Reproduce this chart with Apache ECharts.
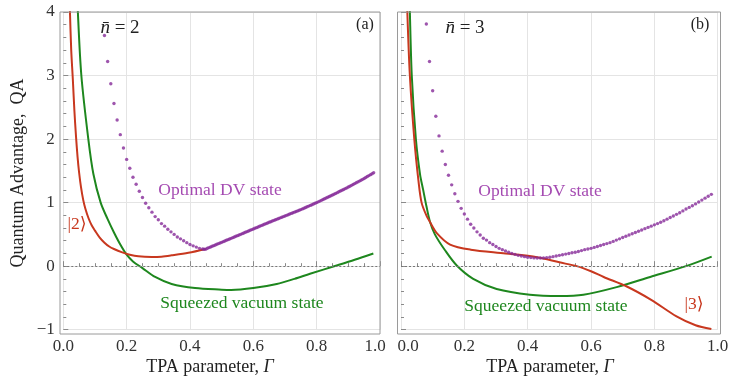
<!DOCTYPE html>
<html>
<head>
<meta charset="utf-8">
<script src="https://cdn.jsdelivr.net/npm/echarts@6/dist/echarts.min.js"></script>
<style>
  html, body { margin: 0; padding: 0; background: #fff; }
  #chart { width: 730px; height: 382px; }
</style>
</head>
<body>
<div id="chart"></div>
<script>
// values, [Gamma, QA]
// panel (a), nbar = 2
const fockA = [[0.018,4.5],[0.021,4.0],[0.025,3.4],[0.030,2.95],[0.035,2.45],[0.040,2.05],[0.045,1.72],[0.050,1.47],[0.056,1.24],[0.063,1.04],[0.07,0.90],[0.08,0.75],[0.09,0.64],[0.10,0.56],[0.115,0.45],[0.13,0.37],[0.145,0.31],[0.16,0.27],[0.184,0.22],[0.21,0.18],[0.237,0.155],[0.279,0.145],[0.31,0.15],[0.342,0.17],[0.395,0.21],[0.45,0.27]]
const squeezedA = [[0.043,4.5],[0.046,4.0],[0.057,3.0],[0.079,2.0],[0.095,1.45],[0.118,1.0],[0.14,0.74],[0.16,0.53],[0.18,0.34],[0.20,0.18],[0.22,0.075],[0.25,-0.03],[0.29,-0.17],[0.342,-0.28],[0.416,-0.345],[0.5,-0.37],[0.53,-0.375],[0.6,-0.345],[0.674,-0.28],[0.73,-0.2],[0.779,-0.12],[0.863,0.01],[0.92,0.10],[0.979,0.20]]
const optimalA = [[0.13,3.63],[0.14,3.22],[0.15,2.87],[0.16,2.56],[0.17,2.30],[0.18,2.07],[0.19,1.86],[0.20,1.68],[0.21,1.54],[0.22,1.40],[0.23,1.29],[0.24,1.18],[0.25,1.08],[0.26,0.99],[0.27,0.92],[0.28,0.85],[0.29,0.78],[0.30,0.73],[0.31,0.67],[0.32,0.63],[0.33,0.58],[0.34,0.54],[0.35,0.50],[0.36,0.46],[0.37,0.43],[0.38,0.40],[0.39,0.37],[0.40,0.34],[0.41,0.32],[0.42,0.30],[0.43,0.28],[0.44,0.27],[0.445,0.265],
  [0.45,0.268],[0.455,0.281],[0.46,0.292],[0.465,0.302],[0.47,0.313],[0.475,0.323],[0.48,0.334],[0.485,0.344],[0.49,0.355],[0.495,0.365],[0.50,0.375],[0.505,0.386],[0.51,0.396],[0.515,0.407],[0.52,0.417],[0.525,0.428],[0.53,0.438],[0.535,0.449],[0.54,0.459],[0.545,0.47],[0.55,0.48],[0.555,0.491],[0.56,0.501],[0.565,0.512],[0.57,0.522],[0.575,0.533],[0.58,0.543],[0.585,0.554],[0.59,0.564],[0.595,0.575],[0.60,0.585],[0.605,0.596],[0.61,0.606],[0.615,0.617],[0.62,0.627],[0.625,0.638],[0.63,0.648],[0.635,0.659],[0.64,0.669],[0.645,0.68],[0.65,0.69],[0.655,0.70],[0.66,0.71],[0.665,0.72],[0.67,0.73],[0.675,0.74],[0.68,0.75],[0.685,0.76],[0.69,0.77],[0.695,0.78],[0.70,0.79],[0.705,0.80],[0.71,0.81],[0.715,0.82],[0.72,0.83],[0.725,0.84],[0.73,0.85],[0.735,0.86],[0.74,0.87],[0.745,0.88],[0.75,0.89],[0.755,0.901],[0.76,0.912],[0.765,0.923],[0.77,0.934],[0.775,0.945],[0.78,0.956],[0.785,0.967],[0.79,0.978],[0.795,0.989],[0.80,1.0],[0.805,1.012],[0.81,1.024],[0.815,1.036],[0.82,1.048],[0.825,1.06],[0.83,1.072],[0.835,1.084],[0.84,1.096],[0.845,1.108],[0.85,1.12],[0.855,1.132],[0.86,1.145],[0.865,1.157],[0.87,1.17],[0.875,1.182],[0.88,1.195],[0.885,1.207],[0.89,1.22],[0.895,1.232],[0.90,1.245],[0.905,1.258],[0.91,1.272],[0.915,1.285],[0.92,1.299],[0.925,1.312],[0.93,1.326],[0.935,1.339],[0.94,1.353],[0.945,1.366],[0.95,1.38],[0.955,1.395],[0.96,1.41],[0.965,1.425],[0.97,1.44],[0.975,1.455],[0.98,1.47]]

// panel (b), nbar = 3
const fockB = [[0.018,4.5],[0.020,4.0],[0.028,3.0],[0.042,2.0],[0.055,1.35],[0.065,1.0],[0.08,0.80],[0.092,0.69],[0.113,0.52],[0.155,0.34],[0.22,0.26],[0.33,0.20],[0.43,0.14],[0.50,0.06],[0.555,0.0],[0.60,-0.08],[0.64,-0.17],[0.713,-0.32],[0.79,-0.53],[0.87,-0.79],[0.93,-0.93],[0.98,-0.99]]
const squeezedB = [[0.026,4.5],[0.028,4.0],[0.034,3.0],[0.047,2.0],[0.06,1.45],[0.07,1.2],[0.08,0.95],[0.092,0.69],[0.107,0.50],[0.139,0.25],[0.176,0.01],[0.228,-0.20],[0.302,-0.36],[0.407,-0.45],[0.50,-0.47],[0.576,-0.45],[0.681,-0.33],[0.787,-0.17],[0.90,0.0],[0.981,0.15]]
const optimalB = [[0.08,3.81],[0.09,3.22],[0.10,2.76],[0.11,2.36],[0.12,2.05],[0.13,1.81],[0.14,1.60],[0.15,1.43],[0.16,1.28],[0.17,1.14],[0.18,1.02],[0.19,0.91],[0.20,0.82],[0.21,0.74],[0.22,0.66],[0.23,0.60],[0.24,0.54],[0.25,0.49],[0.26,0.44],[0.27,0.41],[0.28,0.37],[0.29,0.34],[0.30,0.31],[0.31,0.28],[0.32,0.26],[0.33,0.24],[0.34,0.22],[0.35,0.20],[0.36,0.185],[0.37,0.17],[0.38,0.16],[0.39,0.15],[0.40,0.14],[0.41,0.135],[0.42,0.13],[0.43,0.128],[0.44,0.128],[0.45,0.13],[0.46,0.135],[0.47,0.14],[0.48,0.15],[0.49,0.16],[0.50,0.17],[0.51,0.18],[0.52,0.19],[0.53,0.20],[0.54,0.21],[0.55,0.22],[0.56,0.23],[0.57,0.245],[0.58,0.26],[0.59,0.27],[0.60,0.28],[0.61,0.295],[0.62,0.31],[0.63,0.325],[0.64,0.34],[0.65,0.355],[0.66,0.37],[0.67,0.39],[0.68,0.41],[0.69,0.43],[0.70,0.45],[0.71,0.47],[0.72,0.49],[0.73,0.51],[0.74,0.53],[0.75,0.55],[0.76,0.57],[0.77,0.59],[0.78,0.61],[0.79,0.63],[0.80,0.65],[0.81,0.67],[0.82,0.69],[0.83,0.715],[0.84,0.74],[0.85,0.765],[0.86,0.79],[0.87,0.815],[0.88,0.84],[0.89,0.87],[0.90,0.90],[0.91,0.925],[0.92,0.95],[0.93,0.98],[0.94,1.01],[0.95,1.04],[0.96,1.07],[0.97,1.10],[0.98,1.13]]

const panelTags = ['(a)', '(b)']
const nbarLabels = ['2', '3']
const fockLabels = ['|2⟩', '|3⟩']

const RED = '#c8381f'
const GREEN = '#1e871e'
const PURPLE = '#862a98'
const SERIF = '"Liberation Serif", "DejaVu Serif", serif'

const chart = echarts.init(document.getElementById('chart'))

// first/last x labels of the two panels are nudged apart, as in the figure
const makeX = (gi) => ({
  type: 'value', gridIndex: gi, min: 0, max: 1, interval: 0.2, offset: 4.3,
  axisLine: { show: false },
  axisTick: { inside: true, length: 5, lineStyle: { color: '#8a8a8a' } },
  minorTick: { show: true, splitNumber: 4, length: 3, lineStyle: { color: '#8a8a8a' } },
  splitLine: { show: true, lineStyle: { color: '#e4e4e4', width: 1 } },
  axisLabel: {
    color: '#333', fontFamily: SERIF, fontSize: 17, margin: 4,
    showMinLabel: true, showMaxLabel: true,
    formatter: v => {
      if (gi === 1 && v === 0) return '{l|0.0}'
      if (gi === 0 && v === 1) return '{r|1.0}'
      return v.toFixed(1)
    },
    rich: {
      l: { padding: [0, 0, 0, 14], fontFamily: SERIF, fontSize: 17, color: '#333' },
      r: { padding: [0, 10, 0, 0], fontFamily: SERIF, fontSize: 17, color: '#333' }
    }
  }
})
const makeY = (gi, labels) => ({
  type: 'value', gridIndex: gi, min: -1, max: 4, interval: 1, offset: 3.5,
  axisLine: { show: false },
  axisTick: { inside: true, length: 5, lineStyle: { color: '#8a8a8a' } },
  minorTick: { show: true, splitNumber: 5, length: 3, lineStyle: { color: '#8a8a8a' } },
  splitLine: { show: true, lineStyle: { color: '#e4e4e4', width: 1 } },
  axisLabel: { show: labels, color: '#333', fontFamily: SERIF, fontSize: 17, margin: 5,
    showMinLabel: true, showMaxLabel: true, formatter: v => String(v).replace('-', '\u2212') }
})

const lineSeries = (name, data, color, gi, zero) => ({
  name, type: 'line', data, xAxisIndex: gi, yAxisIndex: gi,
  showSymbol: false, smooth: 0.3, clip: true,
  lineStyle: { color, width: 2 },
  markLine: zero ? {
    silent: true, symbol: ['none', 'none'], label: { show: false },
    lineStyle: { color: '#777', type: [2, 2], width: 1.2 },
    data: [{ yAxis: 0 }]
  } : undefined,
  z: 3
})
const dotSeries = (data, gi) => ({
  type: 'scatter', data, xAxisIndex: gi, yAxisIndex: gi,
  symbol: 'circle', symbolSize: 3.4, itemStyle: { color: PURPLE }, z: 4
})

const txt = (text, x, y, color, size) => ({
  type: 'text', x, y, z: 10,
  style: { text, fill: color, font: size + 'px ' + SERIF, align: 'center', verticalAlign: 'middle' }
})
const nbar = (v, x) => ({
  type: 'text', x, y: 28, z: 10,
  style: { text: '{i|n\u0304} = ' + v, align: 'center', verticalAlign: 'middle',
    fill: '#222', font: '19px ' + SERIF,
    rich: { i: { fontStyle: 'italic', fontSize: 19, fontFamily: SERIF, fill: '#222' } } }
})
const xName = (x) => ({
  type: 'text', x, y: 367, z: 10,
  style: { text: 'TPA parameter, {i|Γ}', align: 'center', verticalAlign: 'middle',
    fill: '#222', font: '18px ' + SERIF,
    rich: { i: { fontStyle: 'italic', fontSize: 18, fontFamily: SERIF, fill: '#222' } } }
})

const option = {
  animation: false,
  backgroundColor: '#fff',
  grid: [
    { left: 63.3, top: 12, width: 316.7, height: 317.7, outerBoundsMode: 'none' },
    { left: 401, top: 12, width: 316.7, height: 317.7, outerBoundsMode: 'none' }
  ],
  xAxis: [makeX(0), makeX(1)],
  yAxis: [makeY(0, true), makeY(1, false)],
  series: [
    lineSeries('squeezedA', squeezedA, GREEN, 0, true),
    lineSeries('fockA', fockA, RED, 0, false),
    dotSeries(optimalA, 0),
    lineSeries('squeezedB', squeezedB, GREEN, 1, true),
    lineSeries('fockB', fockB, RED, 1, false),
    dotSeries(optimalB, 1)
  ],
  graphic: [
    { type: 'rect', shape: { x: 60, y: 12, width: 320, height: 322 }, z: 9,
      style: { fill: 'none', stroke: '#9a9a9a', lineWidth: 1 } },
    { type: 'rect', shape: { x: 397.5, y: 12, width: 323, height: 322 }, z: 9,
      style: { fill: 'none', stroke: '#9a9a9a', lineWidth: 1 } },
    nbar(nbarLabels[0], 120),
    nbar(nbarLabels[1], 465),
    txt(panelTags[0], 365, 25, '#222', 16),
    txt(panelTags[1], 700, 25, '#222', 16),
    txt('Optimal DV state', 220, 190, '#a54bb2', 17.5),
    txt('Optimal DV state', 540, 191, '#a54bb2', 17.5),
    txt('Squeezed vacuum state', 242, 303, GREEN, 17.5),
    txt('Squeezed vacuum state', 546, 306, GREEN, 17.5),
    txt(fockLabels[0], 77, 224, RED, 17.5),
    txt(fockLabels[1], 694, 304, RED, 17.5),
    xName(210),
    xName(550),
    { type: 'text', x: 18, y: 173, rotation: Math.PI / 2, z: 10,
      style: { text: 'Quantum Advantage,  QA', align: 'center', verticalAlign: 'middle',
        fill: '#222', font: '18px ' + SERIF } }
  ]
}

chart.setOption(option)
</script>
</body>
</html>
